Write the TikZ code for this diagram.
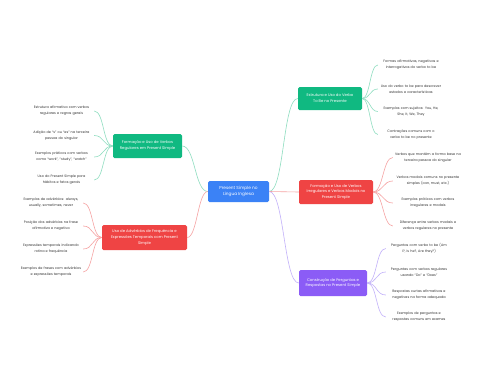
\documentclass[tikz,border=0pt]{standalone}
\usepackage{fontspec}
\setmainfont{Poppins}
\definecolor{cblue}{HTML}{3B82F6}
\definecolor{cgreen}{HTML}{10B981}
\definecolor{cred}{HTML}{EF4444}
\definecolor{cpurple}{HTML}{8B5CF6}
\definecolor{lgreen}{HTML}{8EDDC0}
\definecolor{lred}{HTML}{F6A3A3}
\definecolor{lpurple}{HTML}{C2B1FA}
\definecolor{ltext}{HTML}{333333}
\tikzset{
  mainbox/.style={fill=cblue, text=white, rounded corners=1.5pt, align=center, inner sep=0pt,
    font=\fontsize{4.3}{6}\selectfont},
  branchbox/.style={rounded corners=1.5pt, text=white, align=center, inner sep=0pt,
    font=\fontsize{3.8}{5.8}\selectfont},
  leaf/.style={text=ltext, align=center, inner sep=0pt, font=\fontsize{3.4}{5.8}\selectfont},
  gline/.style={draw=lgreen, line width=0.6pt},
  rline/.style={draw=lred, line width=0.6pt},
  pline/.style={draw=lpurple, line width=0.6pt}
}
\begin{document}
\begin{tikzpicture}[x=1pt,y=-1pt]
\useasboundingbox (0,0) rectangle (480,384);
\fill[white] (0,0) rectangle (480,384);

% central node
\node[mainbox, minimum width=61pt, minimum height=21pt] (c) at (238.5,191.5) {Present Simple no\\Língua Inglesa};

% branch boxes
\node[branchbox, fill=cgreen, minimum width=64pt, minimum height=23pt] (b1) at (330,98.5) {Estrutura e Uso do Verbo\\To Be no Presente};
\node[branchbox, fill=cred, minimum width=74pt, minimum height=24pt] (b2) at (336,192) {Formação e Uso de Verbos\\Irregulares e Verbos Modais no\\Present Simple};
\node[branchbox, fill=cpurple, minimum width=68pt, minimum height=26pt] (b3) at (333,283) {Construção de Perguntas e\\Respostas no Present Simple};
\node[branchbox, fill=cgreen, minimum width=69pt, minimum height=24pt] (b4) at (147.5,146) {Formação e Uso de Verbos\\Regulares em Present Simple};
\node[branchbox, fill=cred, minimum width=85pt, minimum height=25pt] (b5) at (144.5,237.5) {Uso de Advérbios de Frequência e\\Expressões Temporais com Present\\Simple};

% leaves branch 1
\node[leaf, text width=66pt] (l11) at (411,65) {Formas afirmativas, negativas e\\interrogativas do verbo to be};
\node[leaf, text width=66pt] (l12) at (411,89) {Uso do verbo to be para descrever\\estados e características};
\node[leaf, text width=66pt] (l13) at (411,111.5) {Exemplos com sujeitos: You, He,\\She, It, We, They};
\node[leaf, text width=66pt] (l14) at (411,134.5) {Contrações comuns com o\\verbo to be no presente};
% leaves branch 2
\node[leaf, text width=70pt] (l21) at (428,157.5) {Verbos que mantêm a forma base na\\terceira pessoa do singular};
\node[leaf, text width=70pt] (l22) at (428,181) {Verbos modais comuns no presente\\simples (can, must, etc.)};
\node[leaf, text width=70pt] (l23) at (428,203) {Exemplos práticos com verbos\\irregulares e modais};
\node[leaf, text width=70pt] (l24) at (428,226) {Diferença entre verbos modais e\\verbos regulares no presente};
% leaves branch 3
\node[leaf, text width=66pt] (l31) at (419,248.5) {Perguntas com verbo to be (Am\\I?, Is he?, Are they?)};
\node[leaf, text width=66pt] (l32) at (419,272) {Perguntas com verbos regulares\\usando “Do” e “Does”};
\node[leaf, text width=66pt] (l33) at (419,295) {Respostas curtas afirmativas e\\negativas na forma adequada};
\node[leaf, text width=66pt] (l34) at (419,317) {Exemplos de perguntas e\\respostas comuns em exames};
% leaves branch 4
\node[leaf, text width=65pt] (l41) at (61.5,111) {Estrutura afirmativa com verbos\\regulares e regras gerais};
\node[leaf, text width=65pt] (l42) at (61.5,135.5) {Adição de “s” ou “es” na terceira\\pessoa do singular};
\node[leaf, text width=65pt] (l43) at (61.5,157) {Exemplos práticos com verbos\\como “work”, “study”, “watch”};
\node[leaf, text width=65pt] (l44) at (61.5,180) {Uso do Present Simple para\\hábitos e fatos gerais};
% leaves branch 5
\node[leaf, text width=64pt] (l51) at (51,203) {Exemplos de advérbios: always,\\usually, sometimes, never};
\node[leaf, text width=64pt] (l52) at (51,226) {Posição dos advérbios na frase\\afirmativa e negativa};
\node[leaf, text width=64pt] (l53) at (51,249) {Expressões temporais indicando\\rotina e frequência};
\node[leaf, text width=64pt] (l54) at (51,272) {Exemplos de frases com advérbios\\e expressões temporais};

% center to branches
\draw[gline] (c.east) .. controls +(15,0) and +(-15,0) .. (b1.west);
\draw[rline] (c.east) .. controls +(15,0) and +(-15,0) .. (b2.west);
\draw[pline] (c.east) .. controls +(15,0) and +(-15,0) .. (b3.west);
\draw[gline] (c.west) .. controls +(-13,0) and +(13,0) .. (b4.east);
\draw[rline] (c.west) .. controls +(-10,0) and +(10,0) .. (b5.east);

% branch 1 leaves
\foreach \l in {l11,l12,l13,l14}
  \draw[gline] (b1.east) .. controls +(8,0) and +(-8,0) .. (\l.west);
\foreach \l in {l21,l22,l23,l24}
  \draw[rline] (b2.east) .. controls +(10,0) and +(-10,0) .. (\l.west);
\foreach \l in {l31,l32,l33,l34}
  \draw[pline] (b3.east) .. controls +(10,0) and +(-10,0) .. (\l.west);
\foreach \l in {l41,l42,l43,l44}
  \draw[gline] (b4.west) .. controls +(-10,0) and +(10,0) .. (\l.east);
\foreach \l in {l51,l52,l53,l54}
  \draw[rline] (b5.west) .. controls +(-10,0) and +(10,0) .. (\l.east);
\end{tikzpicture}
\end{document}
